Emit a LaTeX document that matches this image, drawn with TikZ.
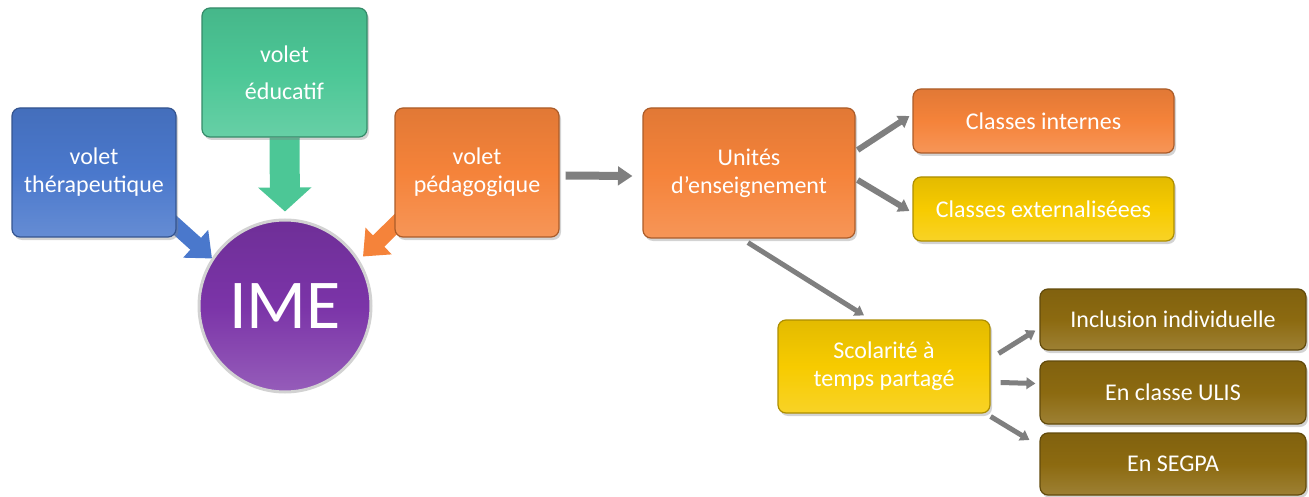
\documentclass[tikz,border=0pt]{standalone}
\usepackage{fontspec}
\setmainfont{Carlito}
\usetikzlibrary{arrows.meta,calc,shadows,backgrounds}

\definecolor{bleu}{HTML}{4A78CC}
\definecolor{vert}{HTML}{4CC796}
\definecolor{orange}{HTML}{F5833A}
\definecolor{violet}{HTML}{7B34A8}
\definecolor{jaune}{HTML}{F7CB00}
\definecolor{olive}{HTML}{8C6A10}
\definecolor{fleche}{HTML}{7F7F7F}

\tikzset{
    bloc/.style={rounded corners=8pt, draw=#1!70!black, line width=1.2pt,
        top color=#1!92!black, bottom color=#1!85!white, middle color=#1,
        text=white, align=center, inner sep=0pt,
        font=\fontsize{24}{28}\selectfont,
        drop shadow={opacity=0.35, shadow xshift=2pt, shadow yshift=-3pt}},
    grosse/.style={line width=#1, fleche, -{Triangle[width=2.3*#1, length=1.8*#1]}},
}

\begin{document}
\begin{tikzpicture}[x=1pt, y=-1pt]
    \useasboundingbox (0,0) rectangle (1309,497);

    % les trois volets
    \node[bloc=bleu, minimum width=164pt, minimum height=129pt] (ther) at (94,172.5) {volet\\th\'erapeutique};
    \node[bloc=vert, minimum width=165pt, minimum height=129pt, font=\fontsize{24}{37}\selectfont] (edu) at (284.5,72.5) {volet\\\'educatif};
    \node[bloc=orange, minimum width=164pt, minimum height=129pt] (ped) at (477,172.5) {volet\\p\'edagogique};

    \node[circle, minimum size=172pt, draw=gray!35, line width=3pt,
        top color=violet!90!black, bottom color=violet!80!white, middle color=violet,
        text=white, font=\fontsize{70}{70}\selectfont] (ime) at (285,306) {IME};

    \begin{scope}[on background layer]
        \draw[grosse=16pt, bleu, -{Triangle[width=36pt, length=22pt]}]
            ($(ther.south east)+(-10,-20)$) -- ($(ime.north)+(-73,40)$);
        \draw[grosse=16pt, orange, -{Triangle[width=36pt, length=22pt]}]
            ($(ped.south west)+(10,-22)$) -- ($(ime.north)+(78,38)$);
        \draw[grosse=30pt, vert, -{Triangle[width=52pt, length=24pt]}]
            (edu.south) -- ($(ime.north)+(0,-7)$);
    \end{scope}

    % enseignement
    \node[bloc=orange, minimum width=212pt, minimum height=130pt] (unites) at (749,173) {Unit\'es\\d'enseignement};
    \node[bloc=orange, minimum width=261pt, minimum height=64pt] (internes) at (1043.5,121) {Classes internes};
    \node[bloc=jaune, minimum width=261pt, minimum height=64pt] (extern) at (1043.5,209) {Classes externalis\'eees};
    \node[bloc=jaune, minimum width=212pt, minimum height=93pt] (scol) at (884,366.5) {Scolarit\'e \`a\\temps partag\'e};
    \node[bloc=olive, minimum width=266pt, minimum height=61pt] (incl) at (1173,319.5) {Inclusion individuelle};
    \node[bloc=olive, minimum width=266pt, minimum height=63pt] (ulis) at (1173,392.5) {En classe ULIS};
    \node[bloc=olive, minimum width=266pt, minimum height=62pt] (segpa) at (1173,464) {En SEGPA};

    \draw[grosse=8pt] ($(ped.east)+(6,3)$) -- ($(unites.west)+(-10,3)$);
    \draw[grosse=6pt] ($(unites.east)+(2,-23)$) -- ($(internes.west)+(-3,-5)$);
    \draw[grosse=6pt] ($(unites.east)+(2,7)$) -- ($(extern.west)+(-3,2)$);
    \draw[grosse=5pt] ($(unites.south)+(-1,4)$) -- ($(scol.north)+(-20,-4)$);
    \draw[grosse=5pt] ($(scol.east)+(8,-13)$) -- ($(incl.west)+(-4,11)$);
    \draw[grosse=5pt] ($(scol.east)+(10,16)$) -- ($(ulis.west)+(-4,-9)$);
    \draw[grosse=5pt] ($(scol.east)+(0,50)$) -- ($(segpa.west)+(-10,-24)$);
\end{tikzpicture}
\end{document}
